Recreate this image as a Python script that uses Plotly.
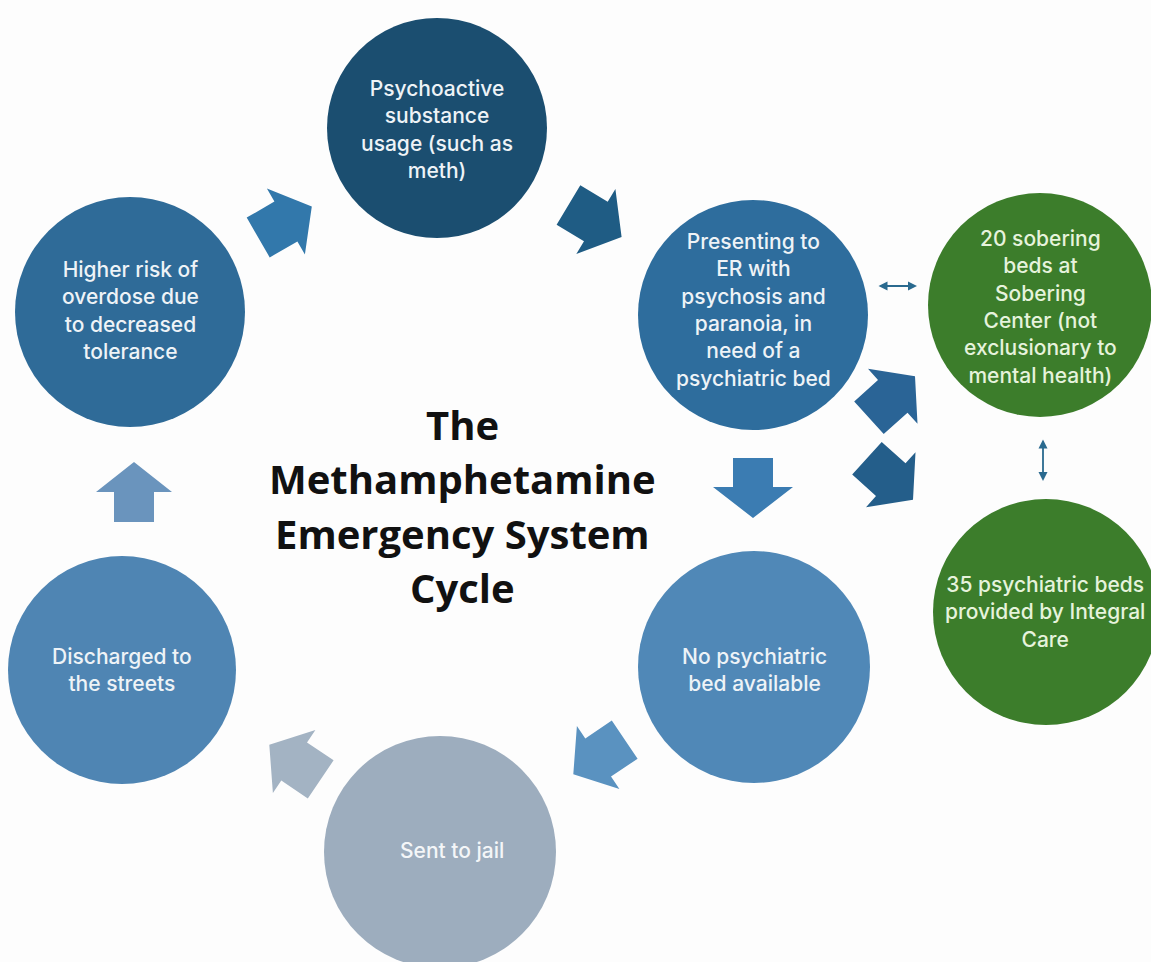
import math
import plotly.graph_objects as go

W, H = 1151, 962

# ---- diagram content ----
node_labels = [
    ["Psychoactive", "substance", "usage (such as", "meth)"],
    ["Presenting to", "ER with", "psychosis and", "paranoia, in", "need of a", "psychiatric bed"],
    ["20 sobering", "beds at", "Sobering", "Center (not", "exclusionary to", "mental health)"],
    ["35 psychiatric beds", "provided by Integral", "Care"],
    ["No psychiatric", "bed available"],
    ["Sent to jail"],
    ["Discharged to", "the streets"],
    ["Higher risk of", "overdose due", "to decreased", "tolerance"],
]
node_colors = ["#1b4e70", "#2e6d9d", "#3c7d2b", "#3c7d2b",
               "#5088b7", "#9dadbe", "#4f85b3", "#2f6b98"]
node_text_colors = ["#eef3f7", "#eef3f7", "#e6f3dc", "#e6f3dc",
                    "#eef3f7", "#f4f6f8", "#eef3f7", "#eef3f7"]
title_lines = ["The", "Methamphetamine", "Emergency System", "Cycle"]

# layout (pixel positions)
node_centers = [(437, 128), (753, 315), (1040, 305), (1046, 612),
                (754, 667), (440, 852), (122, 670), (130, 312)]
node_radii = [110, 115, 112, 113, 116, 116, 114, 115]
text_centers = [(437, 129), (753, 310), (1040, 307), (1045, 612),
                (754, 670), (452, 850), (122, 670), (130, 310)]
title_center = (462, 506)
title_gap = 54.3

# block arrows: center, angle (deg, screen), length, shaft w, head w, head len, colour
arrows = [
    ((285, 222), -30, 62, 46, 76, 30, "#3278ab"),
    ((595, 221), 31, 62, 46, 76, 30, "#1f5c84"),
    ((753, 488), 90, 60, 40, 80, 31, "#3b7cb2"),
    ((892, 397), -42, 62, 44, 74, 30, "#2a6496"),
    ((890, 479), 42, 62, 44, 74, 30, "#245e8a"),
    ((599, 757), 146, 62, 46, 76, 30, "#5a92c0"),
    ((295, 762), -146, 62, 46, 76, 30, "#a3b3c3"),
    ((134, 492), -90, 60, 40, 76, 30, "#6a94bd"),
]


def arrow_path(c, ang, L, sw, hw, hl):
    cx, cy = c
    t = math.radians(ang)
    pts = [(-L / 2, -sw / 2), (L / 2 - hl, -sw / 2), (L / 2 - hl, -hw / 2),
           (L / 2, 0), (L / 2 - hl, hw / 2), (L / 2 - hl, sw / 2), (-L / 2, sw / 2)]
    out = []
    for u, v in pts:
        x = cx + u * math.cos(t) - v * math.sin(t)
        y = cy + u * math.sin(t) + v * math.cos(t)
        out.append(f"{x:.1f},{y:.1f}")
    return "M " + " L ".join(out) + " Z"


fig = go.Figure()
shapes = []
for (cx, cy), r, col in zip(node_centers, node_radii, node_colors):
    shapes.append(dict(type="circle", xref="x", yref="y",
                       x0=cx - r, x1=cx + r, y0=cy - r, y1=cy + r,
                       fillcolor=col, line=dict(width=0), layer="below"))
for c, ang, L, sw, hw, hl, col in arrows:
    shapes.append(dict(type="path", xref="x", yref="y",
                       path=arrow_path(c, ang, L, sw, hw, hl),
                       fillcolor=col, line=dict(width=0), layer="below"))

annotations = []
for (cx, cy), lines, tc in zip(text_centers, node_labels, node_text_colors):
    annotations.append(dict(x=cx, y=cy, xref="x", yref="y",
                            text="<br>".join(lines), showarrow=False, align="center",
                            xanchor="center", yanchor="middle",
                            font=dict(family="Inter", size=21, weight=500, color=tc)))

n = len(title_lines)
for i, ln in enumerate(title_lines):
    annotations.append(dict(x=title_center[0], y=title_center[1] + (i - (n - 1) / 2) * title_gap,
                            xref="x", yref="y", text=f"<b>{ln}</b>",
                            showarrow=False, align="center", xanchor="center", yanchor="middle",
                            font=dict(family="Open Sans", size=40, color="#111111")))

# thin double-headed connectors
for (x0, y0, x1, y1) in [(877, 286, 917, 286), (1043, 438, 1043, 481)]:
    annotations.append(dict(x=x1, y=y1, ax=x0, ay=y0, xref="x", yref="y",
                            axref="x", ayref="y", text="", showarrow=True,
                            arrowhead=2, startarrowhead=2, arrowside="end+start",
                            arrowsize=1, startarrowsize=1,
                            arrowwidth=1.8, arrowcolor="#2a6a8f"))

fig.update_layout(
    width=W, height=H, margin=dict(l=0, r=0, t=0, b=0),
    paper_bgcolor="#fdfdfd", plot_bgcolor="#fdfdfd",
    xaxis=dict(range=[0, W], visible=False, fixedrange=True),
    yaxis=dict(range=[H, 0], visible=False, fixedrange=True),
    shapes=shapes, annotations=annotations, showlegend=False,
)
fig.write_html("out.html", config={"displayModeBar": False},
               post_script="document.body.style.margin='0px';document.body.style.overflow='hidden';")
